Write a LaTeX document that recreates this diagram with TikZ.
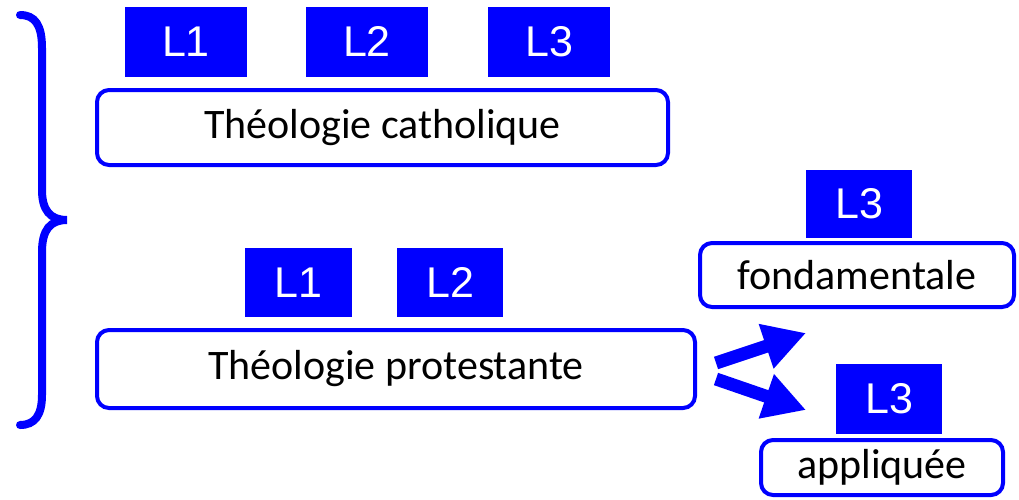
\documentclass[tikz,border=0pt]{standalone}
\usepackage{fontspec}
\setmainfont{Carlito}
\newfontfamily\arialf{Liberation Sans}
\usetikzlibrary{arrows.meta}
\definecolor{pblue}{RGB}{0,0,255}
\tikzset{
  lvl/.style={fill=pblue, text=white, inner sep=0pt, font=\arialf\fontsize{43}{46}\selectfont},
  cbox/.style={draw=pblue, line width=4pt, rounded corners=12pt, fill=white, inner sep=0pt, font=\fontsize{42}{46}\selectfont},
  bigarrow/.style={pblue, line width=13pt, -{Triangle[length=42pt,width=44pt]}},
  bracestyle/.style={pblue, line width=8pt, line cap=round}
}
\begin{document}
\begin{tikzpicture}[x=1pt,y=-1pt]
\useasboundingbox (0,0) rectangle (1019,499);
% top group
\node[lvl, minimum width=122pt, minimum height=70pt] (c1) at (186,41.5) {L1};
\node[lvl, minimum width=122pt, minimum height=70pt] (c2) at (367,41.5) {L2};
\node[lvl, minimum width=122pt, minimum height=70pt] (c3) at (549,41.5) {L3};
\node[cbox, minimum width=571pt, minimum height=75pt] (cath) at (382.5,127.5) {Théologie catholique};
% protestant group
\node[lvl, minimum width=107pt, minimum height=69pt] (p1) at (298.5,282.5) {L1};
\node[lvl, minimum width=106pt, minimum height=69pt] (p2) at (450,282.5) {L2};
\node[cbox, minimum width=598pt, minimum height=78pt] (prot) at (396,369) {Théologie protestante};
% fondamentale
\node[lvl, minimum width=106pt, minimum height=68pt] (f3) at (859,204) {L3};
\node[cbox, minimum width=314pt, minimum height=64pt] (fond) at (857,275) {fondamentale};
% appliquee
\node[lvl, minimum width=106pt, minimum height=70pt] (a3) at (889,399) {L3};
\node[cbox, minimum width=242pt, minimum height=55pt] (appl) at (882,467.5) {appliquée};
% arrows
\coordinate (t1) at (716,363);
\coordinate (h1) at (806,333);
\coordinate (t2) at (716,379);
\coordinate (h2) at (806,410);
\draw[bigarrow] (t1) -- (h1);
\draw[bigarrow] (t2) -- (h2);
% brace
\draw[bracestyle] (20,15) .. controls (35,15) and (42,25) .. (42,48) -- (42,190)
  .. controls (42,210) and (50,220) .. (67,220)
  .. controls (50,220) and (42,230) .. (42,252) -- (42,395)
  .. controls (42,415) and (35,425) .. (20,425);
\end{tikzpicture}
\end{document}
